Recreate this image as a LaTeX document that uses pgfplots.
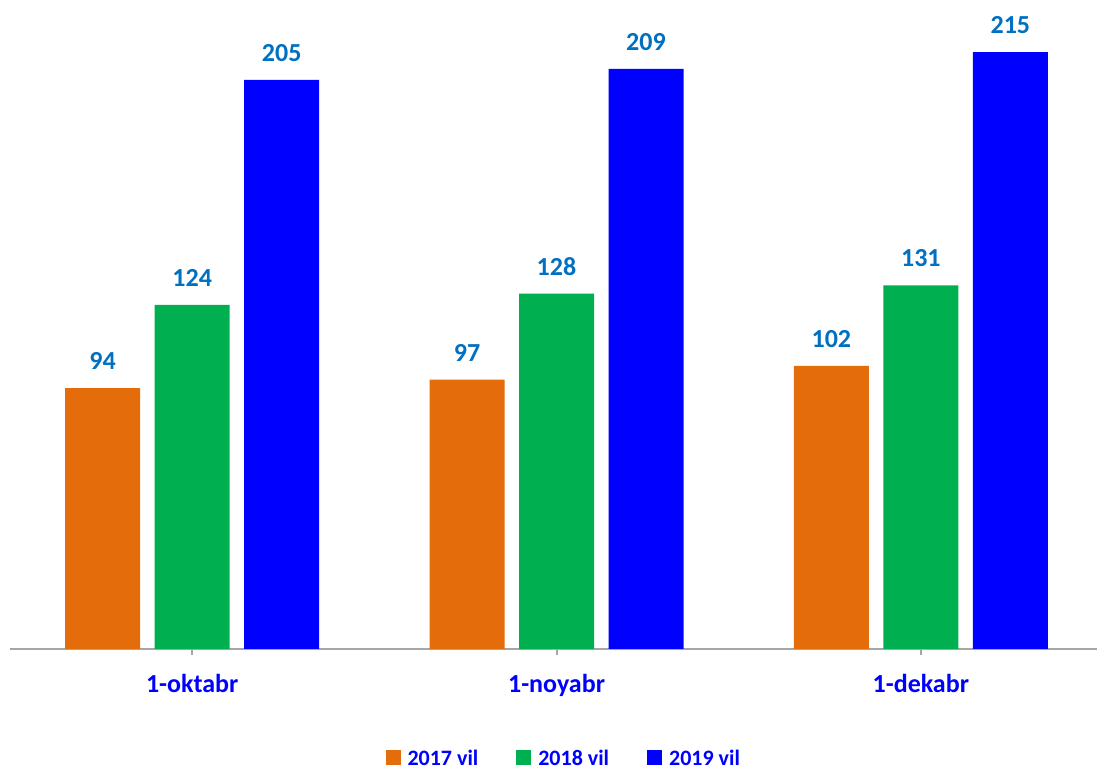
\documentclass[border=0pt]{standalone}
\usepackage{pgfplots}
\pgfplotsset{compat=1.18}
\usepackage{fontspec}
\setmainfont{Carlito}
\definecolor{corange}{HTML}{E46C0A}
\definecolor{cgreen}{HTML}{00B050}
\definecolor{cblue}{HTML}{0000FF}
\definecolor{clabel}{HTML}{0070C0}
\definecolor{caxis}{HTML}{A6A6A6}
\begin{document}
\begin{tikzpicture}
\useasboundingbox (0,0) rectangle (548.5pt,384.5pt);
\begin{axis}[
  at={(5pt,60pt)}, anchor=south west,
  scale only axis, width=546.5pt, height=319.25pt,
  xmin=-0.5, xmax=2.5, ymin=0, ymax=230,
  axis x line*=bottom, axis y line=none,
  x axis line style={draw=caxis, line width=1pt},
  xtick={0,1,2},
  xticklabels={1-oktabr,1-noyabr,1-dekabr},
  major tick length=3pt,
  tick align=outside,
  x tick style={draw=caxis, line width=1pt},
  xticklabel style={text=cblue, font=\fontsize{13}{15}\selectfont\bfseries, inner sep=0pt, yshift=-9.5pt},
  ybar, bar width=37.5pt,
  clip=false,
  /pgf/number format/assume math mode=true,
  nodes near coords,
  every node near coord/.append style={text=clabel, font=\fontsize{13}{15}\selectfont\bfseries, inner sep=0pt, anchor=south, yshift=9pt},
  legend style={at={(0.5075,-0.172)}, anchor=center, draw=none, legend columns=3,
    font=\fontsize{11}{13}\selectfont\bfseries, text=cblue,
    /tikz/every even column/.style={column sep=17pt}},
  legend image code/.code={\fill[#1] (0pt,-3.2pt) rectangle (7.5pt,4.3pt); \path (9pt,0pt);},
]
\addplot[fill=corange, draw=none, bar shift=-44.75pt] coordinates {(0,94) (1,97) (2,102)};
\addplot[fill=cgreen, draw=none, bar shift=0pt] coordinates {(0,124) (1,128) (2,131)};
\addplot[fill=cblue, draw=none, bar shift=44.75pt] coordinates {(0,205) (1,209) (2,215)};
\legend{2017 vil,2018 vil,2019 vil}
\end{axis}
\end{tikzpicture}
\end{document}
